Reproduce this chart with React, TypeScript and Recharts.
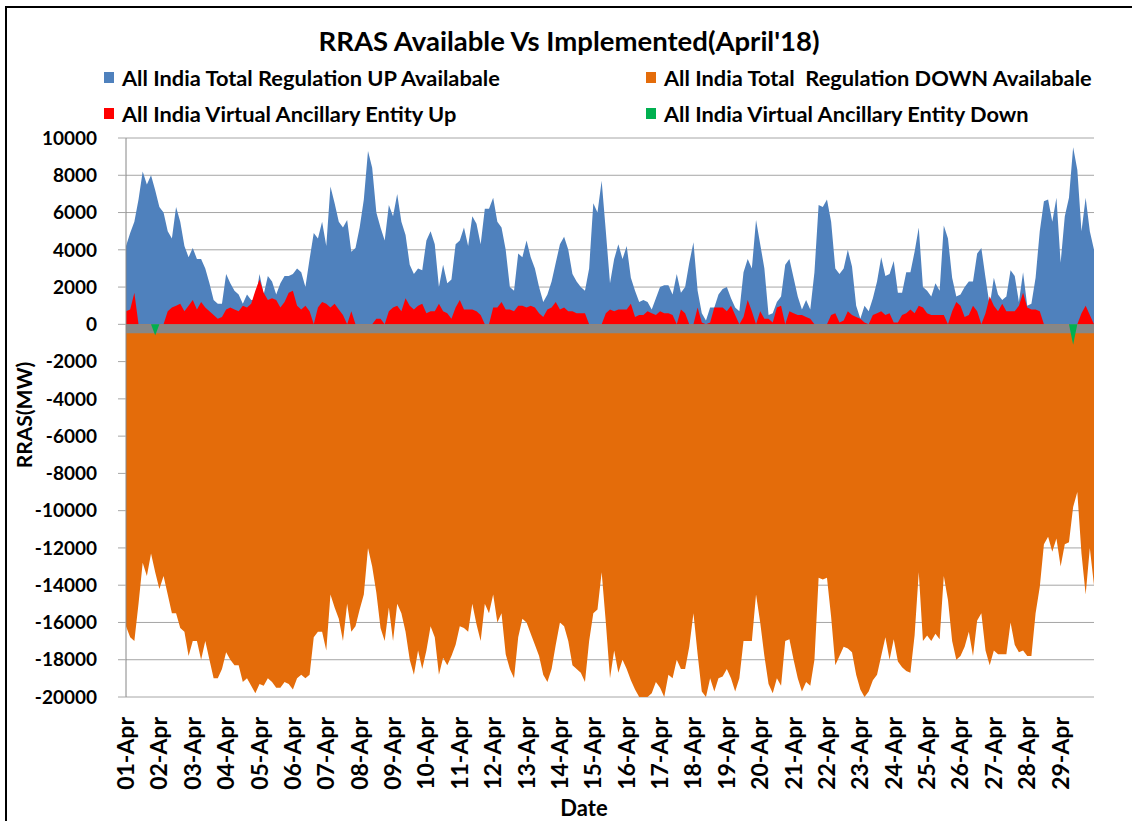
import React from "react";
import { AreaChart, Area, XAxis, YAxis, CartesianGrid, ReferenceArea } from "recharts";

// 8 blocks (3-hourly) per day
const dates = [
  "01-Apr", "02-Apr", "03-Apr", "04-Apr", "05-Apr", "06-Apr", "07-Apr", "08-Apr",
  "09-Apr", "10-Apr", "11-Apr", "12-Apr", "13-Apr", "14-Apr", "15-Apr", "16-Apr",
  "17-Apr", "18-Apr", "19-Apr", "20-Apr", "21-Apr", "22-Apr", "23-Apr", "24-Apr",
  "25-Apr", "26-Apr", "27-Apr", "28-Apr", "29-Apr",
];
const blockHours = ["00:00", "03:00", "06:00", "09:00", "12:00", "15:00", "18:00", "21:00"];
const endSlot = "30-Apr 00:00";

const yTicks = [10000, 8000, 6000, 4000, 2000, 0, -2000, -4000, -6000, -8000, -10000, -12000, -14000, -16000, -18000, -20000];

// All India Total Regulation UP Available (MW)
const upAvail = [
  4200, 4900, 5500, 6700, 8200, 7500, 8000, 7200,
  6300, 6000, 5000, 4600, 6300, 5500, 4200, 3600,
  4100, 3500, 3500, 3000, 2200, 1300, 1100, 1100,
  2700, 2200, 1800, 1600, 1100, 1600, 1300, 1300,
  2700, 1600, 2600, 2300, 1600, 2200, 2600, 2600,
  2700, 3000, 2800, 2000, 3500, 4900, 4600, 5500,
  4200, 7400, 6500, 5500, 5200, 5600, 3900, 4100,
  5200, 6700, 9300, 8400, 6000, 5200, 4500, 6400,
  5800, 7000, 5500, 4800, 3200, 2700, 3000, 2900,
  4500, 5000, 4300, 2000, 3200, 2200, 2400, 4300,
  4500, 5200, 4200, 5800, 5400, 4300, 6200, 6200,
  6800, 5500, 5200, 4000, 2000, 1800, 3800, 3600,
  4500, 3600, 3000, 2000, 1200, 1600, 2300, 3300,
  4300, 4700, 4000, 2700, 2300, 2000, 1800, 3000,
  6500, 6000, 7700, 5000, 2200, 3500, 4300, 3500,
  4200, 2500, 1800, 1200, 1300, 1200, 800, 1400,
  2000, 2100, 2100, 1600, 2700, 1700, 2000, 3300,
  4400, 1800, 600, 200, 900, 900, 1600, 1900,
  2000, 1400, 900, 700, 2800, 3500, 3000, 5600,
  4300, 3000, 500, 600, 1200, 1500, 3200, 3500,
  2500, 1500, 800, 1300, 800, 2800, 6400, 6300,
  6700, 5500, 3000, 2700, 3000, 4000, 3100, 1000,
  300, 1000, 700, 1400, 2300, 3600, 2600, 2700,
  3400, 1700, 1700, 2800, 2800, 3900, 5200, 2000,
  1800, 1500, 2200, 1800, 5300, 4600, 2500, 1500,
  1600, 2000, 2300, 2300, 3800, 4100, 2500, 1000,
  2500, 1600, 1300, 1500, 2900, 2600, 1200, 2800,
  1000, 1100, 2500, 5000, 6600, 6700, 5500, 6800,
  3300, 5800, 6800, 9500, 8300, 5000, 6800, 5000,
  4000,
];

// All India Total Regulation DOWN Available (MW)
const downAvail = [
  -16200, -16800, -17000, -15000, -12800, -13500, -12300, -13300,
  -14200, -13500, -14500, -15500, -15500, -16300, -16500, -17800,
  -17000, -17000, -18000, -17000, -18000, -19000, -19000, -18500,
  -17600, -18000, -18300, -18300, -19200, -19000, -19400, -19800,
  -19300, -19400, -19000, -19200, -19500, -19500, -19200, -19300,
  -19600, -19000, -18800, -19000, -18800, -16800, -16500, -16500,
  -17500, -14500, -15200, -15800, -17000, -15000, -16500, -16200,
  -15300, -14500, -12000, -13000, -14400, -16300, -17000, -15200,
  -17000, -15000, -15500, -16500, -18000, -18800, -17500, -18500,
  -17500, -16200, -16800, -18800, -17900, -18300, -17800, -17200,
  -16200, -16300, -16500, -15000, -16100, -17000, -15000, -15500,
  -14500, -16000, -15500, -17700, -18500, -19000, -16800, -15800,
  -16000, -16600, -17200, -17800, -18800, -19200, -18500, -17200,
  -16000, -16200, -17000, -18300, -18500, -18700, -19200, -17000,
  -15500, -15300, -13300, -16000, -19000, -17500, -18700, -18000,
  -18500, -19100, -19600, -20000, -20000, -20000, -19800, -19200,
  -19500, -20000, -18800, -19000, -18000, -18500, -18500, -17300,
  -15500, -17700, -19700, -20000, -19000, -19700, -19000, -18900,
  -18500, -19000, -19700, -19000, -17000, -17000, -17000, -14500,
  -16000, -17800, -19300, -19800, -19000, -19400, -17000, -16900,
  -18000, -19000, -19700, -19200, -19400, -18000, -13600, -13700,
  -13600, -15700, -18300, -17800, -17300, -17400, -17600, -18800,
  -19600, -20000, -19700, -19100, -18800, -17800, -16800, -18000,
  -16900, -18100, -18400, -18600, -18700, -16700, -13300, -17000,
  -16700, -17000, -16600, -16900, -13500, -14800, -17000, -18000,
  -17800, -17300, -16500, -17800, -15900, -15500, -17500, -18300,
  -17500, -17700, -17700, -17700, -16000, -17200, -17600, -17500,
  -17800, -17800, -15500, -14100, -11800, -11400, -12200, -11500,
  -13000, -11800, -11700, -9800, -9000, -12300, -14500, -12000,
  -14000,
];

// All India Virtual Ancillary Entity Up (MW)
const vaeUp = [
  700, 800, 1700, 0, 0, 0, 0, 0,
  0, 0, 700, 900, 1000, 1100, 700, 1000,
  1300, 800, 1200, 900, 700, 500, 300, 400,
  800, 900, 800, 700, 1000, 900, 1100, 1800,
  2400, 1700, 1300, 1400, 1300, 900, 1200, 1700,
  1800, 1000, 800, 1000, 700, 0, 900, 1200,
  1100, 900, 1100, 800, 500, 0, 700, 0,
  0, 0, 0, 0, 300, 300, 0, 700,
  900, 1000, 700, 1400, 1000, 800, 1000, 1100,
  600, 700, 700, 1100, 700, 600, 300, 900,
  1300, 800, 800, 800, 700, 500, 0, 0,
  900, 900, 1200, 800, 800, 700, 1000, 1000,
  900, 1000, 900, 600, 400, 800, 900, 1200,
  800, 900, 700, 700, 600, 600, 600, 0,
  0, 0, 0, 600, 800, 700, 800, 800,
  800, 1100, 400, 500, 500, 700, 600, 500,
  700, 600, 600, 500, 0, 800, 600, 0,
  0, 900, 100, 0, 100, 900, 900, 900,
  700, 1000, 500, 0, 400, 1300, 700, 0,
  700, 300, 300, 100, 900, 1000, 0, 700,
  600, 500, 500, 400, 300, 0, 0, 0,
  0, 500, 600, 100, 200, 700, 500, 400,
  300, 100, 0, 500, 600, 700, 500, 600,
  100, 100, 500, 600, 800, 600, 1000, 900,
  600, 500, 500, 500, 500, 0, 700, 1200,
  1000, 400, 500, 1000, 700, 0, 600, 1500,
  1000, 700, 1100, 700, 700, 700, 1000, 1700,
  900, 800, 800, 700, 0, 0, 0, 0,
  0, 0, 0, 0, 0, 600, 1000, 500,
  0,
];

// All India Virtual Ancillary Entity Down (MW) - only a couple of non-zero blocks
const vaeDown: Record<string, number> = {
  "01-Apr 21:00": -600,
  "29-Apr 09:00": -1100,
};

const slots = [...dates.flatMap((d) => blockHours.map((h) => `${d} ${h}`)), endSlot];
const rows = slots.map((slot, i) => ({
  slot,
  up: upAvail[i],
  down: downAvail[i],
  vaeUp: vaeUp[i],
  vaeDown: vaeDown[slot] ?? 0,
}));
const dayTicks = dates.map((d) => `${d} 00:00`);

const FONT = "Lato, 'Open Sans', sans-serif";
const BLUE = "#4f81bd";
const ORANGE = "#e46c0a";
const RED = "#ff0000";
const GREEN = "#00b050";
const GRID = "#a6a6a6";

const legendItems = [
  { label: "All India Total Regulation UP Availabale", color: BLUE, left: 104, top: 77 },
  { label: "All India Total  Regulation DOWN Availabale", color: ORANGE, left: 646, top: 77 },
  { label: "All India Virtual Ancillary Entity Up", color: RED, left: 104, top: 113 },
  { label: "All India Virtual Ancillary Entity Down", color: GREEN, left: 646, top: 113 },
];

const DateTick = (props: any) => {
  const { x, y, payload } = props;
  return (
    <text
      transform={`translate(${x + 8},${y + 20}) rotate(-90)`}
      textAnchor="end"
      fontFamily={FONT}
      fontWeight={700}
      fontSize={23}
      fill="#000"
    >
      {String(payload.value).slice(0, 6)}
    </text>
  );
};

export default function App() {
  return (
    <div
      style={{
        position: "absolute",
        left: 0,
        top: 0,
        width: 1132,
        height: 821,
        overflow: "hidden",
        background: "#fff",
        fontFamily: FONT,
      }}
    >
      <div
        style={{
          position: "absolute",
          left: 5,
          top: 6,
          width: 1200,
          height: 900,
          border: "2px solid #000",
        }}
      />
      <div
        style={{
          position: "absolute",
          left: 0,
          width: 1138,
          top: 25,
          textAlign: "center",
          fontSize: 27.5,
          fontWeight: 700,
          lineHeight: "32px",
        }}
      >
        RRAS Available Vs Implemented(April'18)
      </div>
      {legendItems.map((it) => (
        <div
          key={it.label}
          style={{
            position: "absolute",
            left: it.left,
            top: it.top - 14,
            height: 28,
            display: "flex",
            alignItems: "center",
            fontSize: 21.8,
            fontWeight: 700,
            whiteSpace: "pre",
          }}
        >
          <span style={{ width: 10, height: 11, background: it.color, marginRight: 8 }} />
          {it.label}
        </div>
      ))}
      <div
        style={{
          position: "absolute",
          left: 24 - 70,
          top: 415 - 14,
          width: 140,
          height: 28,
          lineHeight: "28px",
          textAlign: "center",
          transform: "rotate(-90deg)",
          fontSize: 21,
          fontWeight: 700,
        }}
      >
        RRAS(MW)
      </div>
      <div
        style={{
          position: "absolute",
          left: 584 - 50,
          top: 794,
          width: 100,
          textAlign: "center",
          fontSize: 22,
          fontWeight: 700,
          lineHeight: "28px",
        }}
      >
        Date
      </div>
      <div style={{ position: "absolute", left: 0, top: 0 }}>
        <AreaChart
          width={1132}
          height={821}
          data={rows}
          margin={{ top: 138, right: 38, left: 26, bottom: 34 }}
        >
          <CartesianGrid horizontal vertical={false} stroke={GRID} strokeWidth={1} />
          <XAxis
            dataKey="slot"
            ticks={dayTicks}
            interval={0}
            tick={<DateTick />}
            tickLine={false}
            tickSize={0}
            tickMargin={0}
            axisLine={false}
            height={90}
          />
          <YAxis
            type="number"
            domain={[-20000, 10000]}
            ticks={yTicks}
            interval={0}
            width={100}
            tickSize={8}
            tickMargin={12}
            tickLine={{ stroke: GRID }}
            axisLine={{ stroke: "#868686" }}
            tick={{ fontFamily: FONT, fontWeight: 700, fontSize: 19, fill: "#000", dx: -9 }}
            allowDataOverflow
          />
          <Area
            type="linear"
            dataKey="down"
            name="All India Total  Regulation DOWN Availabale"
            fill={ORANGE}
            fillOpacity={1}
            stroke="none"
            isAnimationActive={false}
          />
          <Area
            type="linear"
            dataKey="up"
            name="All India Total Regulation UP Availabale"
            fill={BLUE}
            fillOpacity={1}
            stroke="none"
            isAnimationActive={false}
          />
          <Area
            type="linear"
            dataKey="vaeUp"
            name="All India Virtual Ancillary Entity Up"
            fill={RED}
            fillOpacity={1}
            stroke="none"
            isAnimationActive={false}
          />
          <ReferenceArea y1={0} y2={-480} fill="#878787" fillOpacity={1} stroke="none" ifOverflow="hidden" />
          <Area
            type="linear"
            dataKey="vaeDown"
            name="All India Virtual Ancillary Entity Down"
            fill={GREEN}
            fillOpacity={1}
            stroke="none"
            isAnimationActive={false}
          />
        </AreaChart>
      </div>
    </div>
  );
}
